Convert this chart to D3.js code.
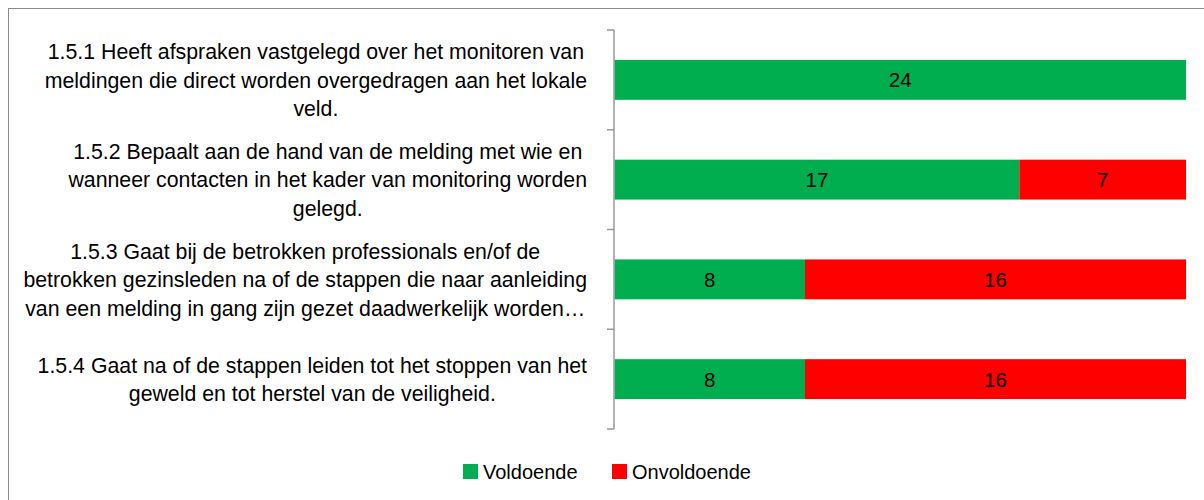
<!DOCTYPE html>
<html><head><meta charset="utf-8">
<script src="https://cdn.jsdelivr.net/npm/d3@7"></script>
<style>body{margin:0;background:#fff}svg{display:block}</style>
</head><body>
<svg id="c" width="1204" height="500"></svg>
<script>
const categories = [
  ["1.5.1 Heeft afspraken vastgelegd over het monitoren van","meldingen die direct worden overgedragen aan het lokale","veld."],
  ["1.5.2 Bepaalt aan de hand van de melding met wie en","wanneer contacten in het kader van monitoring worden","gelegd."],
  ["1.5.3 Gaat bij de betrokken professionals en/of de","betrokken gezinsleden na of de stappen die naar aanleiding","van een melding in gang zijn gezet daadwerkelijk worden…"],
  ["1.5.4 Gaat na of de stappen leiden tot het stoppen van het","geweld en tot herstel van de veiligheid."]
];
const voldoende = [24, 17, 8, 8];
const onvoldoende = [0, 7, 16, 16];
const seriesNames = ["Voldoende", "Onvoldoende"];
const colors = ["#00AE4F", "#FF0000"];

const svg = d3.select("#c");
const font = "'Liberation Sans', Arial, sans-serif";
svg.append("rect").attr("x",8.5).attr("y",8.5).attr("width",1210).attr("height",500)
  .attr("fill","none").attr("stroke","#8c8c8c").attr("stroke-width",1);

const x = d3.scaleLinear().domain([0,24]).range([614.5,1186]);
const y = d3.scaleBand().domain(d3.range(categories.length)).range([30,429]).paddingInner(0.6).paddingOuter(0.3);
const yb = d3.scaleBand().domain(d3.range(categories.length)).range([30,429]);

const stack = d3.stack().keys([0,1])(voldoende.map((v,i)=>({0:v,1:onvoldoende[i]})));
stack.forEach((s,si)=>{
  const g = svg.append("g");
  s.forEach((d,i)=>{
    if (d[1]-d[0] <= 0) return;
    g.append("rect").attr("x",x(d[0])).attr("y",y(i)).attr("width",x(d[1])-x(d[0])).attr("height",y.bandwidth())
      .attr("fill",colors[si]);
    g.append("text").attr("x",(x(d[0])+x(d[1]))/2).attr("y",y(i)+y.bandwidth()/2).attr("dy","0.36em")
      .attr("text-anchor","middle").attr("font-family",font).attr("font-size",20.5).attr("fill","#000")
      .text(d[1]-d[0]);
  });
});

// axis
const ax = svg.append("g");
ax.append("line").attr("x1",614).attr("x2",614).attr("y1",yb.range()[0]).attr("y2",yb.range()[1]).attr("stroke","#999").attr("stroke-width",1.5);
const ticks = d3.range(categories.length+1).map(i=> i<categories.length ? yb(i) : yb.range()[1]);
ticks.forEach(t=>ax.append("line").attr("x1",607).attr("x2",614).attr("y1",t).attr("y2",t).attr("stroke","#999").attr("stroke-width",1.5));

// labels
const lh = 28.5;
categories.forEach((lines,i)=>{
  const g = svg.append("g");
  const c = yb(i)+yb.bandwidth()/2;
  const t = lines.map((l,k)=>g.append("text").attr("font-family",font).attr("font-size",21.3).attr("fill","#000")
    .attr("text-anchor","middle").attr("y", c + (k-(lines.length-1)/2)*lh).attr("dy","0.36em").text(l));
  const maxW = d3.max(t, n=>n.node().getComputedTextLength());
  t.forEach(n=>n.attr("x", 587 - maxW/2));
});

// legend
const lg = svg.append("g");
const legX = [463, 612];
seriesNames.forEach((n,i)=>{
  lg.append("rect").attr("x",legX[i]).attr("y",464).attr("width",15).attr("height",15).attr("fill",colors[i]);
  lg.append("text").attr("x",legX[i]+20).attr("y",471.5).attr("dy","0.36em").attr("font-family",font).attr("font-size",20).attr("fill","#000").text(n);
});
</script>
</body></html>
